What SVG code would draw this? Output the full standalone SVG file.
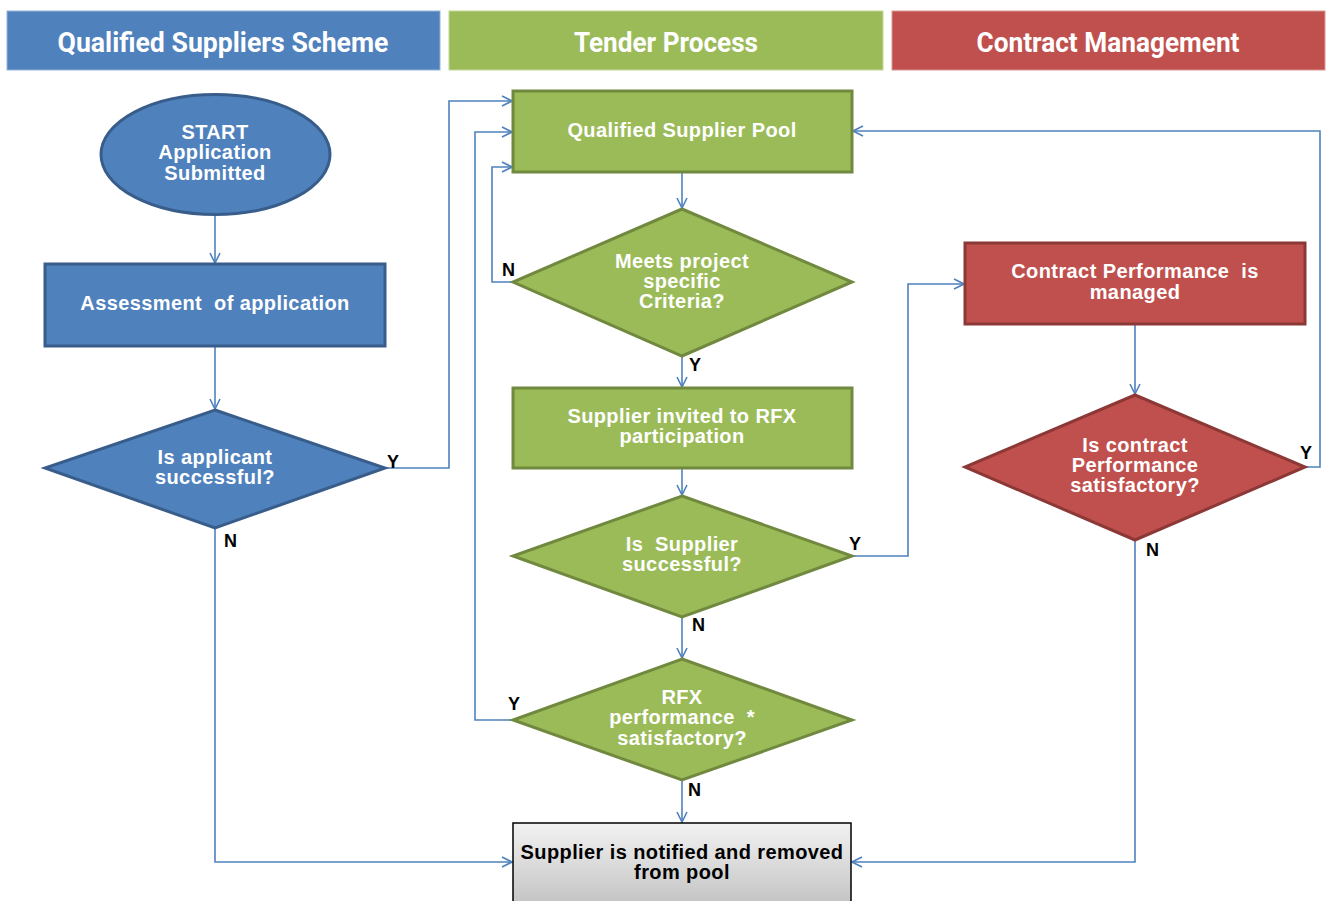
<svg xmlns="http://www.w3.org/2000/svg" width="1326" height="901" viewBox="0 0 1326 901">
<defs>
<style>
.hdr{font-family:Roboto,"Liberation Sans",sans-serif;font-weight:bold;font-size:28px;fill:#fff;text-anchor:middle}
.t{font-family:"Liberation Sans",Arial,sans-serif;font-weight:bold;font-size:20px;letter-spacing:0.4px;fill:#fff;text-anchor:middle}
.tk{font-family:"Liberation Sans",Arial,sans-serif;font-weight:bold;font-size:20px;letter-spacing:0.4px;fill:#000;text-anchor:middle}
.lb{font-family:"Liberation Sans",Arial,sans-serif;font-weight:bold;font-size:18px;fill:#000}
.blue{fill:#4F81BD;stroke:#385D8A;stroke-width:3}
.green{fill:#9BBB59;stroke:#71893F;stroke-width:3}
.red{fill:#C0504D;stroke:#8C3836;stroke-width:3}
.c{fill:none;stroke:#4F81BD;stroke-width:1.6;marker-end:url(#ah)}
</style>
<marker id="ah" viewBox="0 0 12 12" refX="11" refY="6" markerWidth="12" markerHeight="12" markerUnits="userSpaceOnUse" orient="auto">
<path d="M1,1 L11,6 L1,11" fill="none" stroke="#4F81BD" stroke-width="1.6"/>
</marker>
<linearGradient id="gray" x1="0" y1="0" x2="0" y2="1">
<stop offset="0" stop-color="#F2F2F2"/>
<stop offset="1" stop-color="#BFBFBF"/>
</linearGradient>
</defs>
<rect width="1326" height="901" fill="#fff"/>
<g id="headers">
<rect x="7" y="11" width="433" height="59" fill="#4F81BD" stroke="#95B3D7" stroke-width="1"/>
<text class="hdr" x="223" y="52" textLength="331" lengthAdjust="spacingAndGlyphs">Qualified Suppliers Scheme</text>
<rect x="449" y="11" width="434" height="59" fill="#9BBB59" stroke="#C3D69B" stroke-width="1"/>
<text class="hdr" x="666" y="52" textLength="184" lengthAdjust="spacingAndGlyphs">Tender Process</text>
<rect x="892" y="11" width="433" height="59" fill="#C0504D" stroke="#D99694" stroke-width="1"/>
<text class="hdr" x="1108" y="52" textLength="263" lengthAdjust="spacingAndGlyphs">Contract Management</text>
</g>
<g id="connectors">
<path class="c" d="M215,216 V263"/>
<path class="c" d="M215,347 V409"/>
<path class="c" d="M385,468 H449 V101 H512"/>
<path class="c" d="M215,529 V862 H512"/>
<path class="c" d="M682,173 V208"/>
<path class="c" d="M513,282 H492 V167 H512"/>
<path class="c" d="M682,357 V387"/>
<path class="c" d="M682,469 V495"/>
<path class="c" d="M852,556 H908 V284 H964"/>
<path class="c" d="M682,617 V658"/>
<path class="c" d="M512,720 H475 V132 H512"/>
<path class="c" d="M682,780 V822"/>
<path class="c" d="M1135,325 V394"/>
<path class="c" d="M1305,467 H1320 V131 H853"/>
<path class="c" d="M1135,541 V862 H852"/>
<text class="lb" x="387" y="468">Y</text>
<text class="lb" x="224" y="547">N</text>
<text class="lb" x="502" y="276">N</text>
<text class="lb" x="689" y="371">Y</text>
<text class="lb" x="849" y="550">Y</text>
<text class="lb" x="692" y="631">N</text>
<text class="lb" x="508" y="710">Y</text>
<text class="lb" x="688" y="796">N</text>
<text class="lb" x="1300" y="459">Y</text>
<text class="lb" x="1146" y="556">N</text>
</g>
<g id="start">
<ellipse class="blue" cx="215.5" cy="154.5" rx="114.5" ry="60"/>
<text class="t" x="215" y="139">START</text>
<text class="t" x="215" y="159">Application</text>
<text class="t" x="215" y="180">Submitted</text>
</g>
<g id="assessment">
<rect class="blue" x="45" y="264" width="340" height="82"/>
<text class="t" x="215" y="310" xml:space="preserve">Assessment  of application</text>
</g>
<g id="applicant-decision">
<polygon class="blue" points="215,410 385,468 215,528 45,468"/>
<text class="t" x="215" y="464">Is applicant</text>
<text class="t" x="215" y="484">successful?</text>
</g>
<g id="pool">
<rect class="green" x="513" y="91" width="339" height="81"/>
<text class="t" x="682" y="137">Qualified Supplier Pool</text>
</g>
<g id="criteria-decision">
<polygon class="green" points="682,209 852,282 682,356 513,282"/>
<text class="t" x="682" y="268">Meets project</text>
<text class="t" x="682" y="288">specific</text>
<text class="t" x="682" y="308">Criteria?</text>
</g>
<g id="rfx-invite">
<rect class="green" x="513" y="388" width="339" height="80"/>
<text class="t" x="682" y="423">Supplier invited to RFX</text>
<text class="t" x="682" y="443">participation</text>
</g>
<g id="supplier-decision">
<polygon class="green" points="682,496 852,556 682,617 513,556"/>
<text class="t" x="682" y="551" xml:space="preserve">Is  Supplier</text>
<text class="t" x="682" y="571">successful?</text>
</g>
<g id="rfx-decision">
<polygon class="green" points="682,659 852,720 682,780 513,720"/>
<text class="t" x="682" y="704">RFX</text>
<text class="t" x="682" y="724" xml:space="preserve">performance  *</text>
<text class="t" x="682" y="745">satisfactory?</text>
</g>
<g id="removed">
<rect x="513" y="823" width="338" height="90" fill="url(#gray)" stroke="#000" stroke-width="1.5"/>
<text class="tk" x="682" y="859">Supplier is notified and removed</text>
<text class="tk" x="682" y="879">from pool</text>
</g>
<g id="contract">
<rect class="red" x="965" y="243" width="340" height="81"/>
<text class="t" x="1135" y="278" xml:space="preserve">Contract Performance  is</text>
<text class="t" x="1135" y="299">managed</text>
</g>
<g id="contract-decision">
<polygon class="red" points="1135,395 1305,467 1135,540 965,467"/>
<text class="t" x="1135" y="452">Is contract</text>
<text class="t" x="1135" y="472">Performance</text>
<text class="t" x="1135" y="492">satisfactory?</text>
</g>
</svg>
